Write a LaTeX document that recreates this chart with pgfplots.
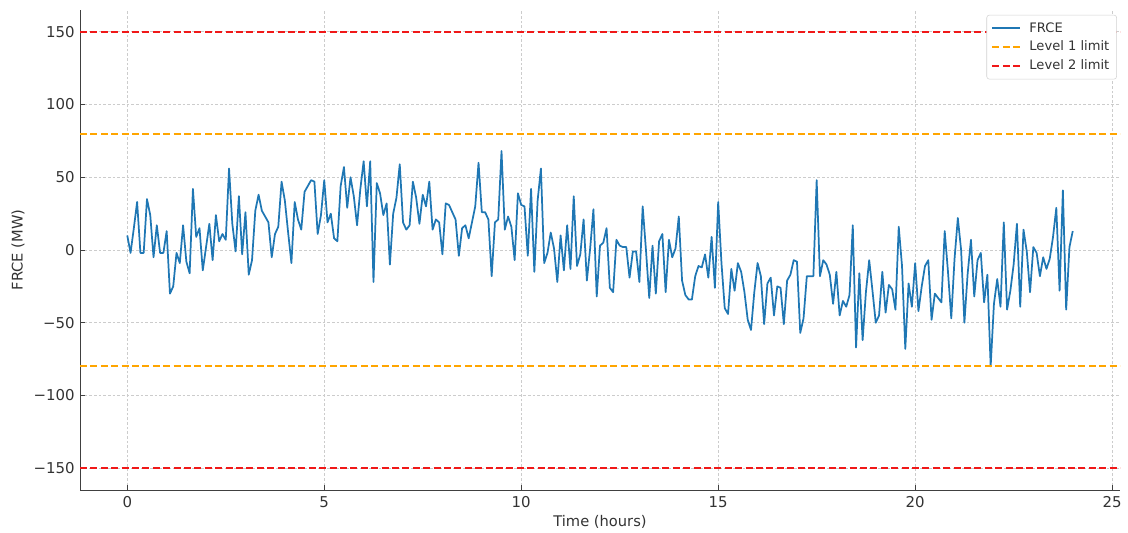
\documentclass[border=0pt]{standalone}
\usepackage{pgfplots}
\pgfplotsset{compat=1.18}
\usepackage{pgfplotstable}
\usepackage{fontspec}
\setmainfont{DejaVu Sans}
\definecolor{mplblue}{HTML}{1F77B4}
\definecolor{lvlorange}{HTML}{FFA500}
\definecolor{lvlred}{HTML}{F01818}
\definecolor{txt}{HTML}{333333}

% t = sample index (5-minute steps), v = FRCE in MW
\pgfplotstableread[row sep=\\]{
t v\\
0 10\\ 1 -2\\ 2 15\\ 3 33\\ 4 -2\\ 5 -2\\ 6 35\\ 7 24\\ 8 -5\\ 9 17\\
10 -2\\ 11 -2\\ 12 13\\ 13 -30\\ 14 -25\\ 15 -2\\ 16 -9\\ 17 17\\ 18 -8\\ 19 -16\\
20 42\\ 21 9\\ 22 15\\ 23 -14\\ 24 2\\ 25 18\\ 26 -7\\ 27 24\\ 28 6\\ 29 11\\
30 7\\ 31 56\\ 32 18\\ 33 -1\\ 34 37\\ 35 -3\\ 36 26\\ 37 -17\\ 38 -7\\ 39 27\\
40 38\\ 41 27\\ 42 23\\ 43 19\\ 44 -5\\ 45 11\\ 46 16\\ 47 47\\ 48 34\\ 49 12\\
50 -9\\ 51 33\\ 52 21\\ 53 14\\ 54 40\\ 55 44\\ 56 48\\ 57 47\\ 58 11\\ 59 24\\
60 48\\ 61 19\\ 62 25\\ 63 8\\ 64 6\\ 65 44\\ 66 57\\ 67 29\\ 68 50\\ 69 37\\
70 17\\ 71 42\\ 72 61\\ 73 30\\ 74 61\\ 75 -22\\ 76 46\\ 77 39\\ 78 24\\ 79 32\\
80 -10\\ 81 25\\ 82 36\\ 83 59\\ 84 19\\ 85 14\\ 86 17\\ 87 47\\ 88 36\\ 89 18\\
90 38\\ 91 30\\ 92 47\\ 93 14\\ 94 21\\ 95 19\\ 96 -3\\ 97 32\\ 98 31\\ 99 26\\
100 21\\ 101 -4\\ 102 15\\ 103 17\\ 104 8\\ 105 19\\ 106 30\\ 107 60\\ 108 26\\ 109 26\\
110 21\\ 111 -18\\ 112 19\\ 113 21\\ 114 68\\ 115 14\\ 116 23\\ 117 16\\ 118 -7\\ 119 39\\
120 31\\ 121 30\\ 122 -4\\ 123 42\\ 124 -15\\ 125 34\\ 126 56\\ 127 -9\\ 128 -2\\ 129 12\\
130 1\\ 131 -22\\ 132 10\\ 133 -14\\ 134 17\\ 135 -13\\ 136 37\\ 137 -11\\ 138 -3\\ 139 21\\
140 -21\\ 141 1\\ 142 28\\ 143 -32\\ 144 3\\ 145 5\\ 146 15\\ 147 -26\\ 148 -29\\ 149 7\\
150 3\\ 151 2\\ 152 2\\ 153 -19\\ 154 -1\\ 155 -1\\ 156 -22\\ 157 30\\ 158 0\\ 159 -33\\
160 3\\ 161 -30\\ 162 6\\ 163 11\\ 164 -29\\ 165 7\\ 166 -5\\ 167 1\\ 168 23\\ 169 -21\\
170 -31\\ 171 -34\\ 172 -34\\ 173 -18\\ 174 -11\\ 175 -12\\ 176 -3\\ 177 -19\\ 178 9\\ 179 -26\\
180 33\\ 181 -9\\ 182 -40\\ 183 -44\\ 184 -13\\ 185 -28\\ 186 -9\\ 187 -15\\ 188 -29\\ 189 -48\\
190 -55\\ 191 -29\\ 192 -9\\ 193 -18\\ 194 -51\\ 195 -23\\ 196 -19\\ 197 -45\\ 198 -25\\ 199 -26\\
200 -51\\ 201 -21\\ 202 -17\\ 203 -7\\ 204 -8\\ 205 -57\\ 206 -47\\ 207 -18\\ 208 -18\\ 209 -18\\
210 48\\ 211 -18\\ 212 -7\\ 213 -10\\ 214 -17\\ 215 -37\\ 216 -15\\ 217 -45\\ 218 -35\\ 219 -39\\
220 -31\\ 221 17\\ 222 -67\\ 223 -16\\ 224 -62\\ 225 -29\\ 226 -7\\ 227 -28\\ 228 -50\\ 229 -45\\
230 -15\\ 231 -43\\ 232 -24\\ 233 -27\\ 234 -41\\ 235 16\\ 236 -11\\ 237 -68\\ 238 -23\\ 239 -39\\
240 -9\\ 241 -42\\ 242 -25\\ 243 -11\\ 244 -7\\ 245 -48\\ 246 -30\\ 247 -33\\ 248 -36\\ 249 13\\
250 -15\\ 251 -47\\ 252 -6\\ 253 22\\ 254 0\\ 255 -50\\ 256 -16\\ 257 7\\ 258 -32\\ 259 -7\\
260 -2\\ 261 -36\\ 262 -17\\ 263 -80\\ 264 -37\\ 265 -20\\ 266 -39\\ 267 19\\ 268 -41\\ 269 -28\\
270 -10\\ 271 18\\ 272 -39\\ 273 14\\ 274 -1\\ 275 -29\\ 276 2\\ 277 -2\\ 278 -18\\ 279 -5\\
280 -13\\ 281 -6\\ 282 9\\ 283 29\\ 284 -28\\ 285 41\\ 286 -41\\ 287 2\\ 288 13\\
}\frcedata

\pgfplotstableread{
x lvl
-1.2 80
25.2 80
}\levelonehigh
\pgfplotstableread{
x lvl
-1.2 -80
25.2 -80
}\levelonelow

\begin{document}
\begin{tikzpicture}
\useasboundingbox (-60pt,-31.5pt) rectangle (786pt,367.5pt);
\begin{axis}[
  scale only axis,
  width=780pt, height=360pt,
  xmin=-1.2, xmax=25.2,
  ymin=-165, ymax=165,
  axis x line*=bottom, axis y line*=left,
  axis line style={-, black!75, line width=0.7pt},
  tick align=inside,
  major tick length=4pt,
  tick style={black!75, line width=0.6pt},
  xtick={0,5,10,15,20,25},
  xticklabels={0,5,10,15,20,25},
  ytick={-150,-100,-50,0,50,100,150},
  yticklabels={−150,−100,−50,0,50,100,150},
  ticklabel style={font=\fontsize{11.2}{13}\selectfont, text=txt},
  yticklabel style={xshift=-0.5pt},
  xticklabel style={yshift=-1.5pt},
  label style={font=\fontsize{11}{13}\selectfont, text=txt},
  xlabel={Time (hours)},
  ylabel={FRCE (MW)},
  xlabel style={yshift=1pt},
  grid=major,
  major grid style={gray!40, line width=0.5pt, dash pattern=on 2pt off 1.5pt},
  legend style={at={(0.997,0.99)}, anchor=north east,
    draw=gray!35, rounded corners=2pt, fill=white,
    font=\fontsize{9.8}{12}\selectfont, text=txt,
    row sep=1.2pt, inner sep=3.5pt},
  legend cell align=left,
  legend image code/.code={\draw[#1] (0pt,0pt) -- (21pt,0pt); \path (25pt,0pt);},
]
\addplot[color=mplblue, line width=1.3pt, line join=round] table[x expr=\thisrow{t}/12, y=v] {\frcedata};
\addlegendentry{FRCE}
\addlegendimage{color=lvlorange, line width=1.5pt, dash pattern=on 5.2pt off 2.6pt}
\addlegendentry{Level 1 limit}
\addlegendimage{color=lvlred, line width=1.5pt, dash pattern=on 5.2pt off 2.6pt}
\addlegendentry{Level 2 limit}
\addplot[color=lvlorange, line width=1.5pt, dash pattern=on 5.2pt off 2.6pt, forget plot] table[x=x, y=lvl] {\levelonelow};
\addplot[color=lvlorange, line width=1.5pt, dash pattern=on 5.2pt off 2.6pt, forget plot] table[x=x, y=lvl] {\levelonehigh};
\addplot[color=lvlred, line width=1.5pt, dash pattern=on 5.2pt off 2.6pt, forget plot] coordinates {(-1.2,150) (25.2,150)};
\addplot[color=lvlred, line width=1.5pt, dash pattern=on 5.2pt off 2.6pt, forget plot] coordinates {(-1.2,-150) (25.2,-150)};
\end{axis}
\end{tikzpicture}
\end{document}
